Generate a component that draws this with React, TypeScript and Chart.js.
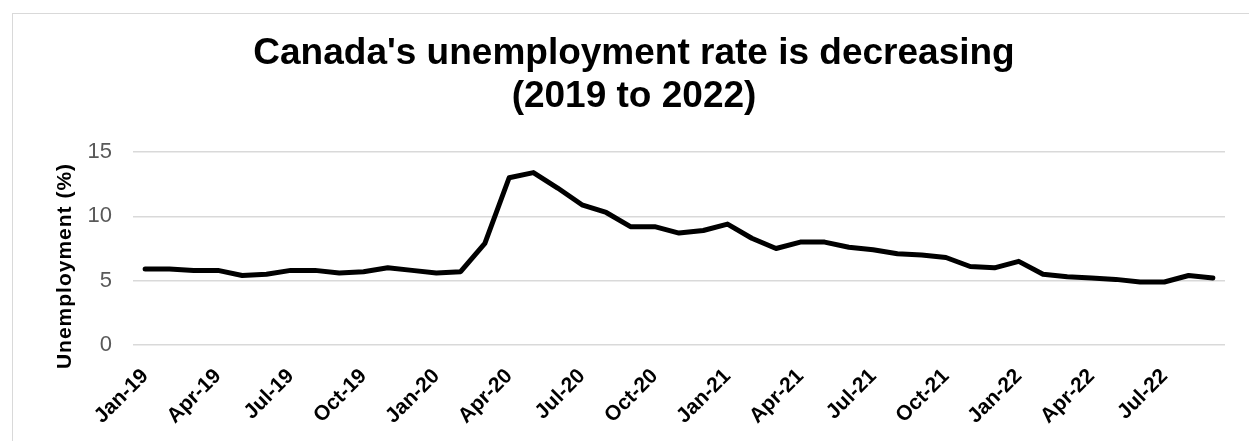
import React, { useEffect, useRef } from "react";
import { Chart, registerables } from "chart.js";

Chart.register(...registerables);

const months: string[] = [
  "Jan-19", "Feb-19", "Mar-19", "Apr-19", "May-19", "Jun-19", "Jul-19", "Aug-19", "Sep-19", "Oct-19", "Nov-19", "Dec-19",
  "Jan-20", "Feb-20", "Mar-20", "Apr-20", "May-20", "Jun-20", "Jul-20", "Aug-20", "Sep-20", "Oct-20", "Nov-20", "Dec-20",
  "Jan-21", "Feb-21", "Mar-21", "Apr-21", "May-21", "Jun-21", "Jul-21", "Aug-21", "Sep-21", "Oct-21", "Nov-21", "Dec-21",
  "Jan-22", "Feb-22", "Mar-22", "Apr-22", "May-22", "Jun-22", "Jul-22", "Aug-22", "Sep-22",
];

const unemploymentRate: number[] = [
  5.9, 5.9, 5.8, 5.8, 5.4, 5.5, 5.8, 5.8, 5.6, 5.7, 6.0, 5.8,
  5.6, 5.7, 7.9, 13.0, 13.4, 12.2, 10.9, 10.3, 9.2, 9.2, 8.7, 8.9,
  9.4, 8.3, 7.5, 8.0, 8.0, 7.6, 7.4, 7.1, 7.0, 6.8, 6.1, 6.0,
  6.5, 5.5, 5.3, 5.2, 5.1, 4.9, 4.9, 5.4, 5.2,
];

const titleLines: string[] = ["Canada's unemployment rate is decreasing", "(2019 to 2022)"];
const yAxisTitle = "Unemployment (%)";
const yTicks: number[] = [0, 5, 10, 15];

const FONT = "'Liberation Sans', Arial, Helvetica, sans-serif";

const yTitlePlugin = {
  id: "yTitlePlugin",
  afterDraw(chart: any) {
    const ctx = chart.ctx as CanvasRenderingContext2D;
    ctx.save();
    ctx.translate(52, 252);
    ctx.rotate(-Math.PI / 2);
    ctx.font = `bold 21px ${FONT}`;
    (ctx as any).letterSpacing = "1px";
    ctx.fillStyle = "#000000";
    ctx.textAlign = "center";
    ctx.textBaseline = "middle";
    ctx.fillText(yAxisTitle, 0, 0);
    ctx.restore();
  },
};

export default function App() {
  const canvasRef = useRef<HTMLCanvasElement | null>(null);

  useEffect(() => {
    const canvas = canvasRef.current;
    if (!canvas) return;
    Chart.defaults.font.family = FONT;
    const chart = new Chart(canvas, {
      type: "line",
      data: {
        labels: months,
        datasets: [
          {
            data: unemploymentRate,
            borderColor: "#000000",
            backgroundColor: "#000000",
            borderWidth: 5,
            pointRadius: 0,
            tension: 0,
            borderJoinStyle: "round",
            borderCapStyle: "round",
          },
        ],
      },
      options: {
        responsive: false,
        animation: false,
        devicePixelRatio: 1,
        layout: { padding: { left: 30, right: 30, top: 0, bottom: 0 } },
        plugins: {
          legend: { display: false },
          tooltip: { enabled: false },
          title: {
            display: true,
            text: titleLines,
            color: "#000000",
            font: { size: 37, weight: "bold", lineHeight: 1.176 },
            padding: { top: 18, bottom: 33 },
          },
        },
        scales: {
          x: {
            offset: true,
            grid: { display: false, drawTicks: false },
            border: { display: false },
            afterFit(scale: any) {
              scale.height = 96;
            },
            ticks: {
              autoSkip: false,
              maxRotation: 45,
              minRotation: 45,
              padding: 19,
              labelOffset: 0,
              color: "#000000",
              font: { size: 21, weight: "bold" },
              callback: (_v: any, i: number) => (i % 3 === 0 ? months[i] : ""),
            },
          },
          y: {
            min: 0,
            max: 15,
            afterFit(scale: any) {
              scale.width = 90;
            },
            afterBuildTicks(scale: any) {
              scale.ticks = yTicks.map((v) => ({ value: v }));
            },
            grid: { color: "#d9d9d9", lineWidth: 1.5, drawTicks: false },
            border: { display: false },
            ticks: {
              padding: 21,
              color: "#595959",
              font: { size: 22 },
            },
          },
        },
      },
      plugins: [yTitlePlugin],
    });
    return () => chart.destroy();
  }, []);

  return (
    <div>
      <div
        style={{
          position: "fixed",
          left: 12,
          top: 13,
          width: 1400,
          height: 600,
          borderTop: "1.5px solid #d9d9d9",
          borderLeft: "1.5px solid #d9d9d9",
          background: "#ffffff",
        }}
      />
      <canvas
        ref={canvasRef}
        width={1242}
        height={427}
        style={{ position: "fixed", left: 13, top: 14, width: 1242, height: 427 }}
      />
    </div>
  );
}
